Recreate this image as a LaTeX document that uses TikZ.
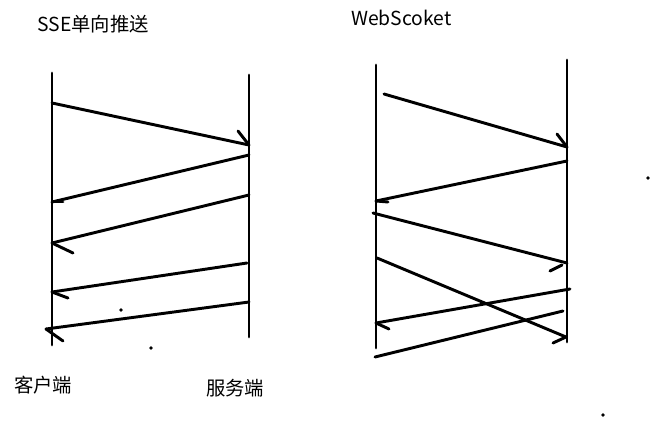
\documentclass[tikz,border=0pt]{standalone}
\usepackage{fontspec}
\setmainfont{Noto Sans CJK SC}
\begin{document}
\begin{tikzpicture}[x=0.75pt,y=-0.75pt,
  pen/.style={line width=2.2pt,line cap=round,black},
  barb/.style={line width=2.2pt,line cap=round,black},
  lbl/.style={inner sep=0pt,anchor=west,font=\fontsize{14.5pt}{16pt}\selectfont,text=black},
  dotmark/.style={circle,fill=black,inner sep=0pt,minimum size=2.8pt}]
\useasboundingbox (0,0) rectangle (658,429);
% titles and labels
\node[lbl] (t1) at (37,24) {SSE单向推送};
\node[lbl] (t2) at (351,18) {WebScoket};
\node[lbl] (c1) at (14,385) {客户端};
\node[lbl] (s1) at (206,388) {服务端};
% ---------------- left diagram: SSE
\coordinate (LCt) at (52,73);  \coordinate (LCb) at (52,345);
\coordinate (LSt) at (249,75); \coordinate (LSb) at (249,337);
\draw[pen] (LCt) -- (LCb);
\draw[pen] (LSt) -- (LSb);
% arrow 1 client -> server
\coordinate (a1s) at (52,103); \coordinate (a1e) at (249,145); \coordinate (a1b) at (238,131);
\draw[pen] (a1s) -- (a1e);
\draw[barb] (a1b) -- (a1e);
% arrow 2 server -> client
\coordinate (a2s) at (249,155); \coordinate (a2e) at (52,202); \coordinate (a2b) at (63,202);
\draw[pen] (a2s) -- (a2e);
\draw[barb] (a2e) -- (a2b);
% arrow 3
\coordinate (a3s) at (249,195); \coordinate (a3e) at (52,243); \coordinate (a3b) at (73,253);
\draw[pen] (a3s) -- (a3e);
\draw[barb] (a3e) -- (a3b);
% arrow 4
\coordinate (a4s) at (247,263); \coordinate (a4e) at (52,292); \coordinate (a4b) at (68,298);
\draw[pen] (a4s) -- (a4e);
\draw[barb] (a4e) -- (a4b);
% arrow 5
\coordinate (a5s) at (249,302); \coordinate (a5e) at (46,329); \coordinate (a5b) at (63,341);
\draw[pen] (a5s) -- (a5e);
\draw[barb] (a5e) -- (a5b);
% stray dots
\node[dotmark] (d1) at (121,310) {};
\node[dotmark] (d2) at (151,348) {};
% ---------------- right diagram: WebSocket
\coordinate (RCt) at (376,65);  \coordinate (RCb) at (376,348);
\coordinate (RSt) at (567,60);  \coordinate (RSb) at (567,342);
\draw[pen] (RCt) -- (RCb);
\draw[pen] (RSt) -- (RSb);
% w1 client -> server
\coordinate (w1s) at (384,94); \coordinate (w1e) at (567,147); \coordinate (w1b) at (557,134);
\draw[pen] (w1s) -- (w1e);
\draw[barb] (w1b) -- (w1e);
% w2 server -> client
\coordinate (w2s) at (567,161); \coordinate (w2e) at (376,201); \coordinate (w2b) at (388,202);
\draw[pen] (w2s) -- (w2e);
\draw[barb] (w2e) -- (w2b);
% w3 client -> server
\coordinate (w3s) at (373,213); \coordinate (w3e) at (567,263);
\coordinate (w3b1) at (550,271); \coordinate (w3b2) at (562,265);
\draw[pen] (w3s) -- (w3e);
\draw[barb] (w3b1) -- (w3b2);
% w4 client -> server (crossing)
\coordinate (w4s) at (377,258); \coordinate (w4e) at (566,337); \coordinate (w4b) at (553,343);
\draw[pen] (w4s) -- (w4e);
\draw[barb] (w4b) -- (w4e);
% w5 server -> client
\coordinate (w5s) at (570,289); \coordinate (w5e) at (376,323); \coordinate (w5b) at (389,329);
\draw[pen] (w5s) -- (w5e);
\draw[barb] (w5e) -- (w5b);
% w6 server -> client
\coordinate (w6s) at (563,311); \coordinate (w6e) at (375,357);
\draw[pen] (w6s) -- (w6e);
% stray dots
\node[dotmark] (d3) at (648,178) {};
\node[dotmark] (d4) at (603,415) {};
\end{tikzpicture}
\end{document}
